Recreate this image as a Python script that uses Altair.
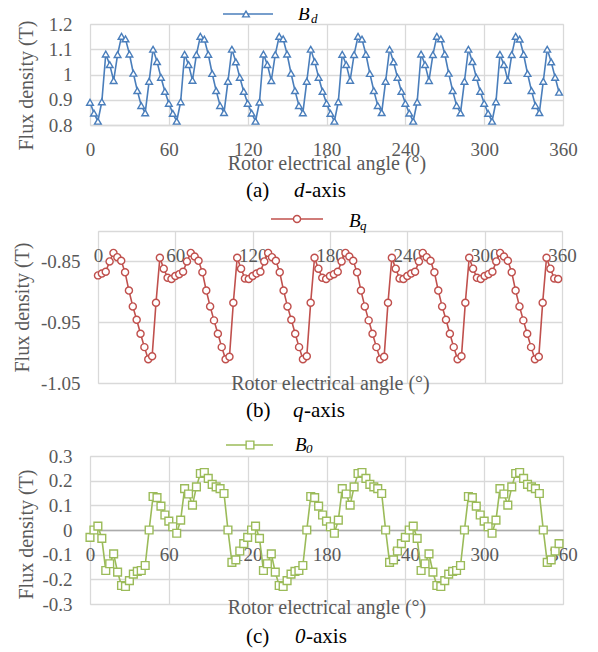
import altair as alt
import pandas as pd

# ---------------- data ----------------
angle = list(range(0, 360, 3))

bd = [
    0.890, 0.847, 0.815, 0.892, 1.081, 1.039, 0.976, 1.079, 1.151, 1.141, 1.081, 1.005, 0.936, 0.877, 0.848, 0.973, 1.100, 1.051, 0.989, 0.933,
    0.886, 0.846, 0.815, 0.892, 1.080, 1.039, 0.977, 1.079, 1.151, 1.140, 1.080, 1.004, 0.936, 0.877, 0.849, 0.973, 1.100, 1.050, 0.989, 0.933,
    0.886, 0.847, 0.815, 0.891, 1.081, 1.039, 0.976, 1.079, 1.151, 1.141, 1.081, 1.005, 0.936, 0.877, 0.848, 0.973, 1.100, 1.051, 0.989, 0.933,
    0.886, 0.846, 0.815, 0.892, 1.080, 1.039, 0.977, 1.079, 1.151, 1.140, 1.080, 1.004, 0.936, 0.877, 0.849, 0.973, 1.100, 1.050, 0.989, 0.933,
    0.886, 0.847, 0.815, 0.891, 1.081, 1.039, 0.976, 1.079, 1.151, 1.141, 1.081, 1.005, 0.936, 0.877, 0.848, 0.973, 1.100, 1.051, 0.989, 0.933,
    0.886, 0.846, 0.815, 0.892, 1.080, 1.039, 0.977, 1.079, 1.151, 1.140, 1.080, 1.004, 0.936, 0.877, 0.849, 0.973, 1.100, 1.050, 0.989, 0.930,
]

bq = [
    -0.873, -0.870, -0.867, -0.850, -0.836, -0.843, -0.849, -0.868, -0.898, -0.924, -0.946, -0.969, -0.991, -1.011, -1.006, -0.918, -0.844, -0.862, -0.877, -0.879,
    -0.874, -0.871, -0.867, -0.850, -0.836, -0.842, -0.849, -0.868, -0.898, -0.924, -0.947, -0.969, -0.991, -1.011, -1.007, -0.918, -0.844, -0.862, -0.878, -0.879,
    -0.874, -0.870, -0.867, -0.850, -0.836, -0.843, -0.849, -0.868, -0.898, -0.924, -0.946, -0.969, -0.991, -1.011, -1.006, -0.918, -0.844, -0.862, -0.877, -0.879,
    -0.874, -0.871, -0.867, -0.850, -0.836, -0.842, -0.849, -0.868, -0.898, -0.924, -0.947, -0.969, -0.991, -1.011, -1.007, -0.918, -0.844, -0.862, -0.878, -0.879,
    -0.874, -0.870, -0.867, -0.850, -0.836, -0.843, -0.849, -0.868, -0.898, -0.924, -0.946, -0.969, -0.991, -1.011, -1.006, -0.918, -0.844, -0.862, -0.877, -0.879,
    -0.874, -0.871, -0.867, -0.850, -0.836, -0.842, -0.849, -0.868, -0.898, -0.924, -0.947, -0.969, -0.991, -1.011, -1.007, -0.918, -0.844, -0.862, -0.878, -0.879,
]

b0 = [
    -0.030, 0.000, 0.016, -0.034, -0.164, -0.137, -0.097, -0.171, -0.225, -0.229, -0.205, -0.179, -0.168, -0.164, -0.144, 0.000, 0.136, 0.131, 0.097, 0.061,
    0.036, 0.013, -0.013, 0.040, 0.168, 0.146, 0.101, 0.175, 0.229, 0.233, 0.209, 0.185, 0.175, 0.168, 0.148, 0.000, -0.131, -0.121, -0.085, -0.055,
    -0.030, 0.000, 0.016, -0.034, -0.164, -0.137, -0.097, -0.171, -0.225, -0.229, -0.205, -0.179, -0.168, -0.164, -0.144, 0.000, 0.136, 0.131, 0.097, 0.061,
    0.036, 0.013, -0.013, 0.040, 0.168, 0.146, 0.101, 0.175, 0.229, 0.233, 0.209, 0.185, 0.175, 0.168, 0.148, 0.000, -0.131, -0.121, -0.085, -0.055,
    -0.030, 0.000, 0.016, -0.034, -0.164, -0.137, -0.097, -0.171, -0.225, -0.229, -0.205, -0.179, -0.168, -0.164, -0.144, 0.000, 0.136, 0.131, 0.097, 0.061,
    0.036, 0.013, -0.013, 0.040, 0.168, 0.146, 0.101, 0.175, 0.229, 0.233, 0.209, 0.185, 0.175, 0.168, 0.148, 0.000, -0.131, -0.121, -0.085, -0.055,
]

x_ticks = [0, 60, 120, 180, 240, 300, 360]
a_ticks = [0.8, 0.9, 1.0, 1.1, 1.2]
b_ticks = [-1.05, -0.95, -0.85]
c_ticks = [-0.3, -0.2, -0.1, 0.0, 0.1, 0.2, 0.3]

x_title = "Rotor electrical angle (°)"
y_title = "Flux density (T)"

# ---------------- styling ----------------
FONT = "Liberation Serif"
GRID = "#D9D9D9"
LAB = "#595959"
BLUE = "#4A7EBB"
RED = "#C0504D"
GREEN = "#9BBB59"
LABEL_EXPR = "replace(format(datum.value, '.2~f'), '\u2212', '-')"

one = pd.DataFrame({"k": [0]})
NOVIEW = alt.ViewBackground(stroke="transparent", strokeWidth=0, strokeOpacity=0)


def txt(s, x, y, size, italic=False, color="black"):
    kw = dict(text=s, font=FONT, fontSize=size, align="left", baseline="alphabetic", color=color)
    if italic:
        kw["fontStyle"] = "italic"
    return alt.Chart(one).mark_text(**kw).encode(x=alt.value(x), y=alt.value(y))


def panel(vals, color, shape, msize, w, h, ydom, yticks, xoff, xtitle_y, ytx, yty,
          xdomain_color, leg, sub_txt, sub_pos, cap, cap_ital, cap_pos):
    df = pd.DataFrame({"angle": angle, "value": vals})
    xax = alt.Axis(values=x_ticks, title=x_title, offset=xoff, grid=True, gridColor=GRID, gridWidth=1.3,
                   domainColor=xdomain_color, domainWidth=1.3, ticks=False, tickSize=0, labelPadding=15,
                   labelFont=FONT, labelFontSize=19, labelColor=LAB, labelFlush=False, labelOverlap=False,
                   titleFont=FONT, titleFontSize=20, titleFontWeight="normal", titleColor=LAB,
                   titleX=w / 2, titleY=xtitle_y, titleBaseline="alphabetic", titleAlign="center")
    yax = alt.Axis(values=yticks, title=y_title, grid=True, gridColor=GRID, gridWidth=1.3, domain=False,
                   ticks=False, tickSize=0, labelPadding=18, labelFont=FONT, labelFontSize=19, labelColor=LAB,
                   labelExpr=LABEL_EXPR, labelFlush=False, labelOverlap=False,
                   titleFont=FONT, titleFontSize=20, titleFontWeight="normal", titleColor=LAB,
                   titleX=ytx, titleY=yty, titleAngle=270, titleBaseline="middle", titleAlign="center")
    line = alt.Chart(df).mark_line(
        color=color, strokeWidth=1.6,
        point=alt.OverlayMarkDef(shape=shape, size=msize, filled=True, fill="white", stroke=color,
                                 strokeWidth=1.4, opacity=1),
    ).encode(
        x=alt.X("angle:Q", scale=alt.Scale(domain=[0, 360], nice=False, zero=False), axis=xax),
        y=alt.Y("value:Q", scale=alt.Scale(domain=ydom, nice=False, zero=False), axis=yax),
    )
    lx0, lx1, ly, mx = leg
    leg_line = alt.Chart(one).mark_rule(color=color, strokeWidth=1.6).encode(
        x=alt.value(lx0), x2=alt.value(lx1), y=alt.value(ly))
    leg_pt = alt.Chart(one).mark_point(shape=shape, size=msize, filled=True, fill="white", stroke=color,
                                       strokeWidth=1.4, opacity=1).encode(x=alt.value(mx), y=alt.value(ly))
    bx, by, sx, sy = sub_pos
    cx, cy, ix, ax = cap_pos
    layers = [
        line, leg_line, leg_pt,
        txt("B", bx, by, 19, italic=True),
        txt(sub_txt, sx, sy, 13, italic=True),
        txt(cap, cx, cy, 21),
        txt(cap_ital, ix, cy, 21, italic=True),
        txt("-axis", ax, cy, 21),
    ]
    return alt.layer(*layers).properties(width=w, height=h)


def spacer(w, h):
    return alt.Chart(one, view=NOVIEW).mark_text(text=" ", opacity=0).encode(
        x=alt.value(0), y=alt.value(0)).properties(width=w, height=h)


pa = panel(bd, BLUE, "triangle-up", 45, 473, 101, [0.8, 1.2], a_ticks, 0, 44, -64, 61, GRID,
           (133, 183, -10, 156), "d", (208, -4, 221, -1), "(a)", "d", (156, 173, 204, 215))
pb = panel(bq, RED, "circle", 50, 464, 152, [-1.05, -0.80], b_ticks, -152, 158, -76, 76, GRID,
           (173, 225, -12, 199), "q", (251, -4, 262, -1), "(b)", "q", (148, 186, 195, 206))
pc = panel(b0, GREEN, "square", 60, 473, 148, [-0.3, 0.3], c_ticks, -74, 83, -64, 78, "#ABABAB",
           (136, 183, -11, 160), "0", (205, -5, 216, -3), "(c)", "0", (156, 187, 205, 216))

# the nested row counts as zero height in a flush layout, so the following gap
# spacer carries the panel (b) height (152) plus the gap (73)
row_b = alt.hconcat(spacer(8, 152), pb, spacing=0, bounds="flush")

chart = alt.vconcat(pa, spacer(1, 106), row_b, spacer(1, 225), pc, spacing=0, bounds="flush").properties(
    padding={"left": 3, "top": -4, "right": 5, "bottom": 5}
).configure_view(stroke="transparent", strokeWidth=0).configure(background="white")

chart.save("out.html", embed_options={"renderer": "svg", "actions": False})
